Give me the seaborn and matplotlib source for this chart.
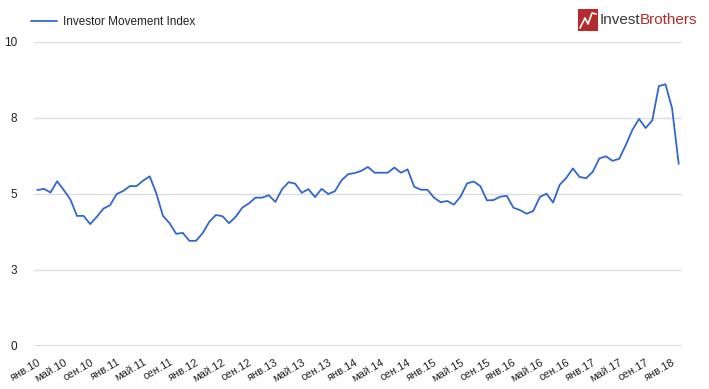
import numpy as np
import pandas as pd
import seaborn as sns
import matplotlib.pyplot as plt
from matplotlib.patches import Rectangle

# Monthly values, Jan 2010 .. Feb 2018
index_values = [
    5.13, 5.17, 5.05, 5.42, 5.13, 4.82, 4.28, 4.28, 4.01, 4.25, 4.52, 4.63,
    5.00, 5.10, 5.26, 5.26, 5.44, 5.58, 5.02, 4.28, 4.04, 3.69, 3.72, 3.46,
    3.46, 3.71, 4.08, 4.31, 4.27, 4.04, 4.25, 4.55, 4.69, 4.88, 4.88, 4.96,
    4.74, 5.15, 5.39, 5.34, 5.04, 5.16, 4.90, 5.17, 5.00, 5.09, 5.45, 5.65,
    5.69, 5.76, 5.89, 5.70, 5.70, 5.70, 5.87, 5.70, 5.81, 5.24, 5.14, 5.14,
    4.88, 4.73, 4.77, 4.65, 4.91, 5.35, 5.41, 5.26, 4.79, 4.80, 4.91, 4.94,
    4.55, 4.47, 4.35, 4.44, 4.90, 5.01, 4.72, 5.30, 5.53, 5.84, 5.56, 5.52,
    5.73, 6.17, 6.24, 6.09, 6.16, 6.61, 7.11, 7.47, 7.17, 7.42, 8.55, 8.61,
    7.82, 5.99,
]
month_names = ["янв", "фев", "мар", "апр", "май", "июн",
               "июл", "авг", "сен", "окт", "ноя", "дек"]
start_year = 2010

y_ticks = [0, 2.5, 5, 7.5, 10]
y_tick_labels = ["0", "3", "5", "8", "10"]

n = len(index_values)
labels = [f"{month_names[i % 12]}.{(start_year + i // 12) % 100:02d}" for i in range(n)]
df = pd.DataFrame({"month": np.arange(n), "value": index_values})

sns.set_style("white")
plt.rcParams["font.family"] = ["Liberation Sans", "DejaVu Sans"]

fig = plt.figure(figsize=(7.09, 3.89), dpi=100)
ax = fig.add_axes([34 / 709, 1 - 346 / 389, 648 / 709, 304 / 389])

sns.lineplot(data=df, x="month", y="value", ax=ax, color="#3366cc",
             linewidth=1.3, label="Investor Movement Index")

ax.set_xlim(-0.5, n - 0.5)
ax.set_ylim(0, 10)
for s in ax.spines.values():
    s.set_visible(False)
for t in y_ticks[1:]:
    ax.axhline(t, color="#dddddd", linewidth=1, zorder=0)
ax.axhline(0, color="#444444", linewidth=1, zorder=1)

ax.set_yticks(y_ticks)
ax.set_yticklabels(y_tick_labels, fontsize=8.5, color="#222222")
tick_pos = list(range(0, n, 4))
ax.set_xticks(tick_pos)
ax.set_xticklabels([labels[i] for i in tick_pos], rotation=30, ha="right",
                   rotation_mode="anchor", fontsize=8, color="#222222")
ax.tick_params(axis="both", length=0)
ax.tick_params(axis="y", pad=12)
ax.tick_params(axis="x", pad=8)
ax.set_xlabel("")
ax.set_ylabel("")

leg = ax.legend(loc="lower left", bbox_to_anchor=(-0.005, 1.045), frameon=False,
                fontsize=8.5, handlelength=2.2, handletextpad=0.5,
                borderaxespad=0, borderpad=0)
for t in leg.get_texts():
    t.set_color("#222222")

# logo: red box with zigzag, then "Invest" + "Brothers"
fig.patches.append(Rectangle((578 / 709, 1 - 31 / 389), 20 / 709, 22 / 389,
                             transform=fig.transFigure, facecolor="#b52a2a",
                             edgecolor="none"))
fig.lines.append(plt.Line2D([580 / 709, 585 / 709, 588 / 709, 592 / 709, 596 / 709],
                            [1 - 28 / 389, 1 - 18 / 389, 1 - 24 / 389, 1 - 13 / 389, 1 - 14 / 389],
                            transform=fig.transFigure, color="white", linewidth=1.2))
fig.text(600 / 709, 1 - 20 / 389, "Invest", fontsize=11, color="#3a3a3a",
         va="center", ha="left")
fig.text(640 / 709, 1 - 20 / 389, "Brothers", fontsize=11,
         color="#b52a2a", va="center", ha="left")

fig.savefig("out.png", dpi=100)
